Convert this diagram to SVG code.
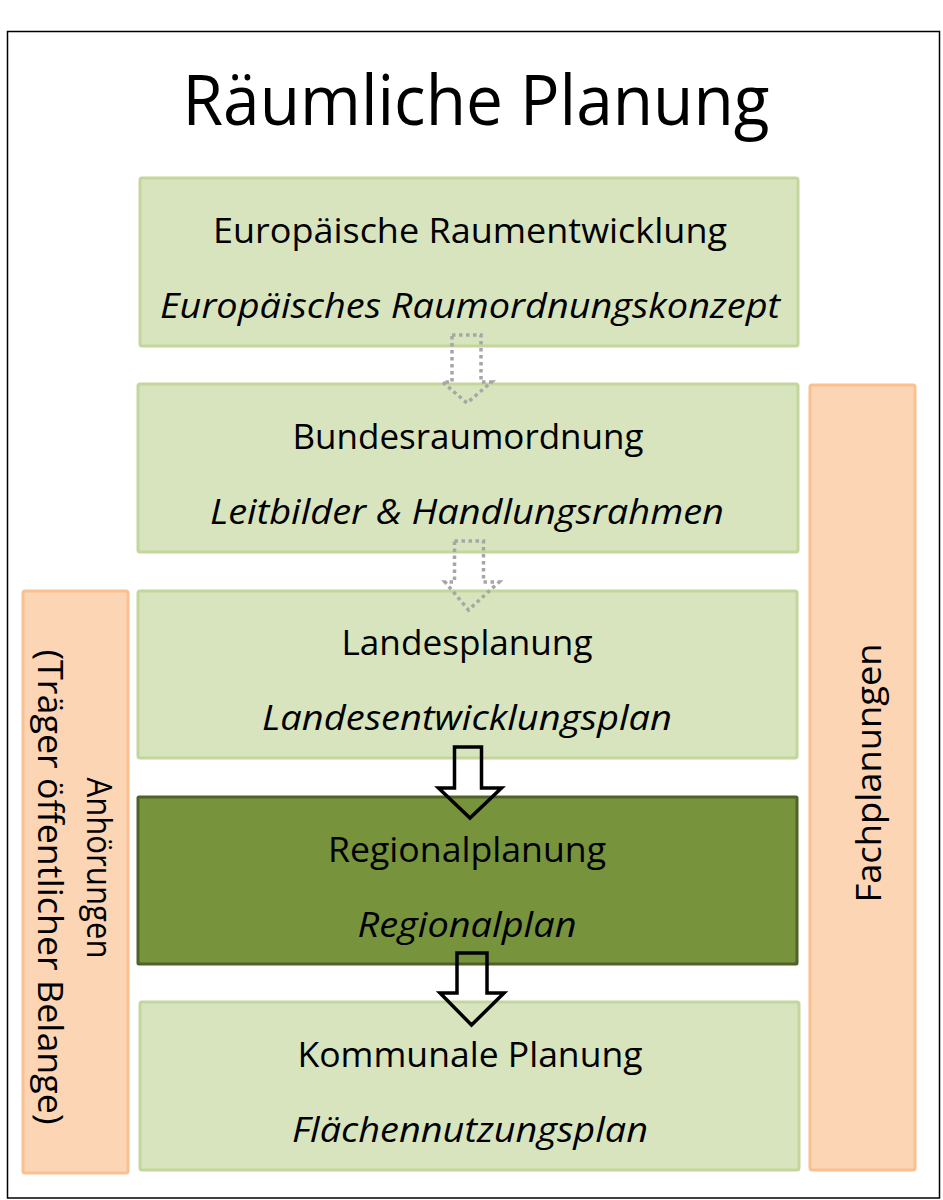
<svg xmlns="http://www.w3.org/2000/svg" width="943" height="1200" viewBox="0 0 943 1200">
<style>
text { font-family: "Open Sans", "Liberation Sans", sans-serif; fill: #000; }
.t { font-size: 35px; text-anchor: middle; }
.i { font-style: italic; }
.lg { fill: #d7e4bd; stroke: #c3d69b; stroke-width: 3; }
.dg { fill: #77933c; stroke: #4f6228; stroke-width: 3; }
.or { fill: #fcd5b5; stroke: #fac090; stroke-width: 3; }
.dot { fill: none; stroke: #a6a6a6; stroke-width: 3.5; stroke-dasharray: 3.5 3.5; }
.sol { fill: none; stroke: #000; stroke-width: 3.5; stroke-linejoin: miter; }
</style>
<rect x="0" y="0" width="943" height="1200" fill="#fff"/>
<rect id="frame" x="7.5" y="31.5" width="932" height="1166.5" fill="none" stroke="#000" stroke-width="1.5"/>
<text id="title" x="476" y="125" style="font-size:70px;text-anchor:middle" textLength="587" lengthAdjust="spacingAndGlyphs">Räumliche Planung</text>

<g id="n_europa">
<rect class="lg" x="140" y="178" width="658" height="168" rx="2"/>
<text class="t" x="470" y="243" textLength="514" lengthAdjust="spacingAndGlyphs">Europäische Raumentwicklung</text>
<text class="t i" x="470" y="318" textLength="620" lengthAdjust="spacingAndGlyphs">Europäisches Raumordnungskonzept</text>
</g>
<g id="n_bund">
<rect class="lg" x="138" y="384" width="660" height="168" rx="2"/>
<text class="t" x="468" y="449" textLength="351" lengthAdjust="spacingAndGlyphs">Bundesraumordnung</text>
<text class="t i" x="467" y="524" textLength="514" lengthAdjust="spacingAndGlyphs">Leitbilder &amp; Handlungsrahmen</text>
</g>
<g id="n_land">
<rect class="lg" x="138" y="591" width="659" height="167" rx="2"/>
<text class="t" x="467" y="655" textLength="251" lengthAdjust="spacingAndGlyphs">Landesplanung</text>
<text class="t i" x="467" y="730" textLength="410" lengthAdjust="spacingAndGlyphs">Landesentwicklungsplan</text>
</g>
<g id="n_region">
<rect class="dg" x="138" y="797" width="659" height="167" rx="1"/>
<text class="t" x="467" y="862" textLength="278" lengthAdjust="spacingAndGlyphs">Regionalplanung</text>
<text class="t i" x="467" y="937" textLength="219" lengthAdjust="spacingAndGlyphs">Regionalplan</text>
</g>
<g id="n_kommune">
<rect class="lg" x="140" y="1002" width="659" height="168" rx="2"/>
<text class="t" x="470" y="1067" textLength="345" lengthAdjust="spacingAndGlyphs">Kommunale Planung</text>
<text class="t i" x="470" y="1142" textLength="356" lengthAdjust="spacingAndGlyphs">Flächennutzungsplan</text>
</g>
<g id="n_anhoerung">
<rect class="or" x="23" y="591" width="105" height="582" rx="2"/>
<text class="t" transform="translate(87,868) rotate(90)" textLength="181" lengthAdjust="spacingAndGlyphs">Anhörungen</text>
<text class="t" transform="translate(38,887) rotate(90)" textLength="475" lengthAdjust="spacingAndGlyphs">(Träger öffentlicher Belange)</text>
</g>
<g id="n_fach">
<rect class="or" x="810" y="385" width="105" height="785" rx="2"/>
<text class="t" transform="translate(881,773) rotate(-90)" textLength="259" lengthAdjust="spacingAndGlyphs">Fachplanungen</text>
</g>

<g id="connectors">
<path class="dot" d="M452,335 L481,335 L481,382 L491.5,382 L467,403 L442.5,382 L452,382 Z"/>
<path class="dot" d="M454.5,541 L483.5,541 L483.5,582 L499,582 L468.5,610 L445,582 L454.5,582 Z"/>
<path class="sol" d="M454.5,747 L481.5,747 L481.5,788 L501.5,788 L470,818 L438.5,788 L454.5,788 Z"/>
<path class="sol" d="M457,953 L487,953 L487,993 L504,993 L471.5,1025 L440,993 L457,993 Z"/>
</g>
</svg>
